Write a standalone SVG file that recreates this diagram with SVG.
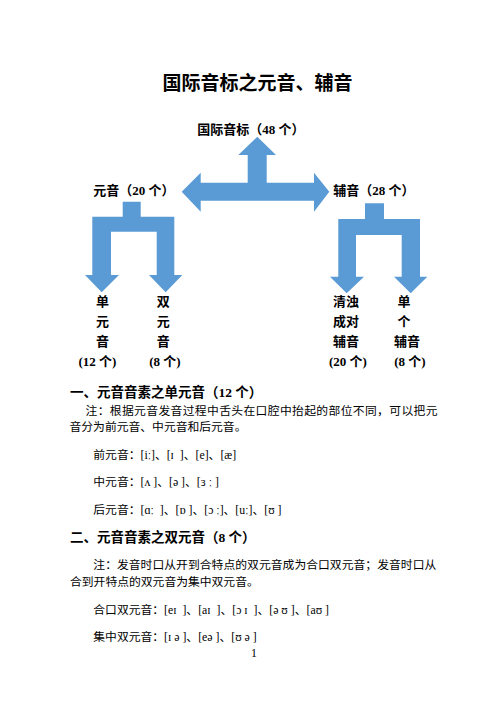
<svg xmlns="http://www.w3.org/2000/svg" width="503" height="712" viewBox="0 0 503 712">
<style>
.arrow{fill:#5B9BD5;stroke:none}
.t{font-family:"Liberation Serif","Noto Sans CJK SC",serif;fill:#000;font-weight:bold}
.lbl{font-size:13px;text-anchor:middle}
.h{font-size:13.5px}
.b{font-family:"Liberation Serif","DejaVu Serif","Noto Sans CJK SC",serif;font-size:11.8px;fill:#000}
</style>
<rect width="503" height="712" fill="#fff"/>
<g id="title"><text class="t" x="257.5" y="90" font-size="19" text-anchor="middle">国际音标之元音、辅音</text></g>
<g id="connectors">
<polygon class="arrow" points="257.3,136.7 276,155 266.7,155 266.7,182.7 314,182.7 314,172.7 329.3,191.7 314,211.7 314,200.7 200.7,200.7 200.7,211.7 181.7,191.7 200.7,172.7 200.7,182.7 247.7,182.7 247.7,155 238.3,155"/>
<polygon class="arrow" points="122.7,201.7 140.7,201.7 140.7,216.7 174.3,216.7 174.3,275 182.3,275 165.7,292.3 149,275 156.7,275 156.7,231.7 111,231.7 111,275 119,275 101.7,292.3 85,275 92.3,275 92.3,216.7 122.7,216.7"/>
<polygon class="arrow" points="365,203.3 384,203.3 384,219 420,219 420,276.7 427.3,276.7 410.7,293.3 394,276.7 401.7,276.7 401.7,235 356,235 356,276.7 364,276.7 346.7,293.3 330,276.7 338.3,276.7 338.3,219 365,219"/>
</g>
<g id="node-root"><text class="t lbl" x="251" y="134">国际音标（48 个）</text></g>
<g id="node-vowel"><text class="t lbl" x="134" y="195">元音（20 个）</text></g>
<g id="node-consonant"><text class="t lbl" x="374" y="195">辅音（28 个）</text></g>
<g id="node-monophthong" class="t lbl">
<text x="102.5" y="306">单</text><text x="102.5" y="326">元</text><text x="102.5" y="346">音</text><text x="97.5" y="366">(12 个)</text>
</g>
<g id="node-diphthong" class="t lbl">
<text x="163.3" y="306">双</text><text x="163.3" y="326">元</text><text x="163.3" y="346">音</text><text x="165" y="366">(8 个)</text>
</g>
<g id="node-paired" class="t lbl">
<text x="346" y="306">清浊</text><text x="346" y="326">成对</text><text x="346" y="346">辅音</text><text x="348" y="366">(20 个)</text>
</g>
<g id="node-single" class="t lbl">
<text x="404" y="306">单</text><text x="404" y="326">个</text><text x="407" y="346">辅音</text><text x="410" y="366">(8 个)</text>
</g>
<g id="section1">
<text class="t h" x="70" y="397">一、元音音素之单元音（12 个）</text>
<text class="b" x="85.5" y="415" textLength="352" lengthAdjust="spacing">注：根据元音发音过程中舌头在口腔中抬起的部位不同，可以把元</text>
<text class="b" x="69.5" y="431">音分为前元音、中元音和后元音。</text>
<text class="b" x="93.3" y="459" xml:space="preserve">前元音：[iː]、[ɪ  ]、[e]、[æ]</text>
<text class="b" x="93.3" y="486" xml:space="preserve">中元音：[ʌ ]、[ə ]、[ɜ ː ]</text>
<text class="b" x="93.3" y="514" xml:space="preserve">后元音：[ɑː  ]、[ɒ ]、[ɔ ː]、[uː]、[ʊ ]</text>
</g>
<g id="section2">
<text class="t h" x="70" y="542">二、元音音素之双元音（8 个）</text>
<text class="b" x="93.3" y="569" textLength="343" lengthAdjust="spacing">注：发音时口从开到合特点的双元音成为合口双元音；发音时口从</text>
<text class="b" x="70" y="586">合到开特点的双元音为集中双元音。</text>
<text class="b" x="93.3" y="614" xml:space="preserve">合口双元音：[eɪ  ]、[aɪ  ]、[ɔ ɪ  ]、[ə ʊ ]、[aʊ ]</text>
<text class="b" x="93.3" y="641" xml:space="preserve">集中双元音：[ɪ ə ]、[eə ]、[ʊ ə ]</text>
</g>
<g id="page-number"><text class="b" x="254" y="657" font-size="7" text-anchor="middle">1</text></g>
</svg>
